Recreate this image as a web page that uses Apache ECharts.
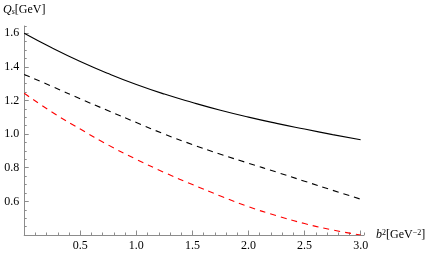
<!DOCTYPE html>
<html>
<head>
<meta charset="utf-8">
<script src="https://cdn.jsdelivr.net/npm/echarts@6/dist/echarts.min.js"></script>
<style>
html,body{margin:0;padding:0;background:#fff;}
#c{width:436px;height:254px;}
</style>
</head>
<body>
<div id="c"></div>
<script>
// b^2 values [GeV^-2]
var b2 = [0, 0.25, 0.5, 0.75, 1.0, 1.25, 1.5, 1.75, 2.0, 2.25, 2.5, 2.75, 3.0];
// Q_s [GeV] curves
var qsSolid  = [1.600, 1.512, 1.432, 1.360, 1.295, 1.238, 1.188, 1.142, 1.101, 1.064, 1.030, 0.997, 0.966];
var qsDashed = [1.355, 1.283, 1.210, 1.139, 1.069, 1.000, 0.938, 0.880, 0.827, 0.774, 0.720, 0.666, 0.613];
var qsRed    = [1.243, 1.130, 1.030, 0.935, 0.850, 0.772, 0.700, 0.632, 0.568, 0.515, 0.468, 0.430, 0.400];
// tick labels
var xTickLabels = [0.5, 1.0, 1.5, 2.0, 2.5, 3.0];
var yTickLabels = [0.6, 0.8, 1.0, 1.2, 1.4, 1.6];

function pairs(ys){ return b2.map(function(x,i){ return [x, ys[i]]; }); }

var FONT = '"Liberation Serif", "Times New Roman", serif';
var AX = '#8c8c8c';
var chart = echarts.init(document.getElementById('c'), null, {renderer:'canvas'});
var XMIN = 0, XMAX = 3.03, YMIN = 0.4, YMAX = 1.643;

chart.setOption({
  animation: false,
  grid: {left: 23, right: 72, top: 26, bottom: 19, containLabel: false},
  xAxis: [{
    type: 'value', min: XMIN, max: XMAX, interval: 0.5,
    position: 'bottom',
    axisLine: {show: true, lineStyle: {color: AX, width: 1}},
    axisTick: {show: true, inside: true, length: 4.5, lineStyle: {color: AX},
               customValues: [0, 0.5, 1.0, 1.5, 2.0, 2.5, 3.0]},
    axisLabel: {show: true, customValues: xTickLabels, color: '#000', fontFamily: FONT, fontSize: 12, margin: 5,
                formatter: function(v){ return v.toFixed(1); }},
    splitLine: {show: false},
    name: '{i|b}{sup|2}{n|[GeV}{sup|\u22122}{n|]}',
    nameLocation: 'end', nameGap: 12,
    nameTextStyle: {color: '#000', fontFamily: FONT, fontSize: 12,
      rich: {
        i: {fontFamily: FONT, fontSize: 12, fontStyle: 'italic', color: '#000'},
        n: {fontFamily: FONT, fontSize: 12, color: '#000'},
        sup: {fontFamily: FONT, fontSize: 8, color: '#000', verticalAlign: 'top'}
      }}
  }, {
    type: 'value', min: XMIN, max: XMAX, interval: 0.1,
    position: 'bottom',
    axisLine: {show: false},
    axisTick: {show: true, inside: true, length: 2.5, lineStyle: {color: AX}},
    axisLabel: {show: false},
    splitLine: {show: false}
  }],
  yAxis: [{
    type: 'value', min: YMIN, max: YMAX, interval: 0.2,
    position: 'left',
    axisLine: {show: true, lineStyle: {color: AX, width: 1}},
    axisTick: {show: true, inside: true, length: 4.5, lineStyle: {color: AX},
               customValues: [0.4, 0.6, 0.8, 1.0, 1.2, 1.4, 1.6]},
    axisLabel: {show: true, customValues: yTickLabels, color: '#000', fontFamily: FONT, fontSize: 12, margin: 5,
                formatter: function(v){ return v.toFixed(1); }},
    splitLine: {show: false},
    name: '{q|Q}{s|s}{n|[GeV]}',
    nameLocation: 'end', nameGap: 10,
    nameTextStyle: {color: '#000', fontFamily: FONT, fontSize: 12, align: 'center',
      rich: {
        q: {fontFamily: FONT, fontSize: 12, fontStyle: 'italic', color: '#000'},
        s: {fontFamily: FONT, fontSize: 8, fontStyle: 'italic', color: '#000', verticalAlign: 'bottom'},
        n: {fontFamily: FONT, fontSize: 12, color: '#000'}
      }}
  }, {
    type: 'value', min: YMIN, max: YMAX, interval: 0.05,
    position: 'left',
    axisLine: {show: false},
    axisTick: {show: true, inside: true, length: 2.5, lineStyle: {color: AX}},
    axisLabel: {show: false},
    splitLine: {show: false}
  }],
  series: [
    {type: 'line', data: pairs(qsSolid), smooth: true, symbol: 'none', xAxisIndex: 0, yAxisIndex: 0,
     lineStyle: {color: '#000', width: 1.1, type: 'solid'}},
    {type: 'line', data: pairs(qsDashed), smooth: true, symbol: 'none', xAxisIndex: 0, yAxisIndex: 0,
     lineStyle: {color: '#000', width: 1.1, type: [6, 5]}},
    {type: 'line', data: pairs(qsRed), smooth: true, symbol: 'none', xAxisIndex: 0, yAxisIndex: 0,
     lineStyle: {color: '#ff0000', width: 1.1, type: [6, 5]}}
  ]
});
</script>
</body>
</html>
